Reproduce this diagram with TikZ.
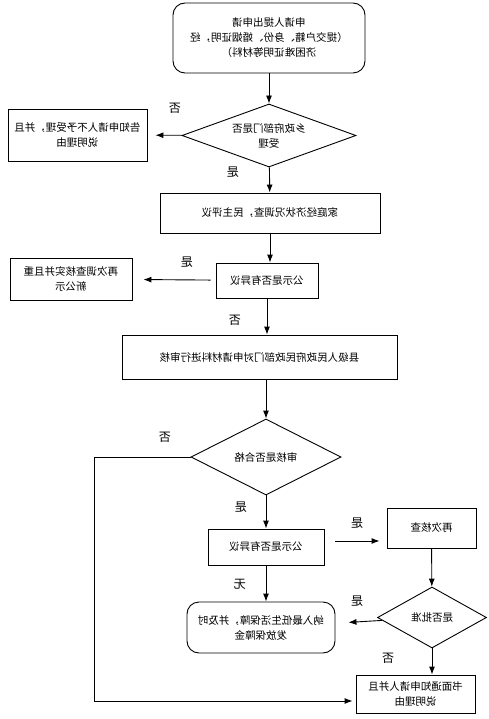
\documentclass[tikz,border=0pt]{standalone}
\usepackage{fontspec}
\setmainfont{Noto Sans CJK SC}
\usetikzlibrary{arrows.meta, shapes.geometric, positioning}

\tikzset{
	box/.style={draw, inner sep=2pt, align=center, font=\fontsize{10.5}{15}\selectfont},
	rbox/.style={box, rounded corners=12pt},
	choice/.style={draw, diamond, aspect=2.5, inner sep=0pt, align=center, font=\fontsize{10.5}{15}\selectfont},
	tag/.style={inner sep=0pt, font=\fontsize{12}{14}\selectfont}
}

\begin{document}
\begin{tikzpicture}[x=1pt, y=-1pt, xscale=-1, transform shape, line width=0.9pt, >={Latex[length=8pt,width=6pt]}]
		\useasboundingbox (0,0) rectangle (488,719);
		\draw (219,38) node[rbox, minimum width=192pt, minimum height=70pt] (apply) {申请人提出申请\\（提交户籍、身份、婚姻证明，经\\济困难证明等材料）}
		(219,135.5) node[choice, minimum width=174pt, minimum height=63pt] (accept) {乡政府部门是否\\受理}
		(410.5,135) node[box, minimum width=139pt, minimum height=52pt] (refuse) {告知申请人不予受理，并且\\说明理由}
		(218,213) node[box, minimum width=220pt, minimum height=40pt] (survey) {家庭经济状况调查，民主评议}
		(221,280.5) node[box, minimum width=102pt, minimum height=35pt] (notice) {公示是否有异议}
		(417,279) node[box, minimum width=122pt, minimum height=42pt] (renotice) {再次调查核实并且重\\新公示}
		(228.5,357) node[box, minimum width=275pt, minimum height=44pt] (review) {县级人民政府民政部门对申请材料进行审核}
		(222,457) node[choice, minimum width=150pt, minimum height=76pt] (pass) {审核是否合格}
		(222,547) node[box, minimum width=116pt, minimum height=36pt] (notice2) {公示是否有异议}
		(56.5,528) node[box, minimum width=89pt, minimum height=40pt] (recheck) {再次核查}
		(56,617.5) node[choice, minimum width=109pt, minimum height=61pt] (approve) {是否批准}
		(227,627.5) node[rbox, minimum width=148pt, minimum height=51pt] (grant) {纳入最低生活保障，并及时\\发放保障金}
		(72.5,694) node[box, minimum width=119pt, minimum height=38pt] (inform) {书面通知申请人并且\\说明理由};

		\coordinate (turn) at (394,457);
		\coordinate (back) at (394,701);
		\coordinate (side) at (131,541);

		\draw[->] (apply) -- (accept);
		\draw[->, shorten >=8pt] (accept) -- (refuse);
		\draw[->] (accept) -- (survey);
		\draw[->] (survey.south) -- (survey.south |- notice.north);
		\draw[->, shorten <=5pt, shorten >=11pt] (notice) -- (renotice);
		\draw[->] (notice.south) -- (notice.south |- review.north);
		\draw[->] (pass.north |- review.south) -- (pass.north);
		\draw[->] (pass.south) -- (pass.south |- notice2.north);
		\draw[->, shorten <=11pt, shorten >=7pt] (notice2.west |- side) -- (recheck.east |- side);
		\draw[->] (notice2.south) -- (notice2.south |- grant.north);
		\draw[->] (recheck) -- (approve);
		\draw[->, shorten >=13pt] (approve) -- (grant);
		\draw[->] (approve.south) -- (approve.south |- inform.north);
		\draw[->, shorten >=3pt] (pass.east) -- (turn) -- (back) -- (inform.east |- back);

		\node[tag] (no1) at (313,108) {否};
		\node[tag] (yes1) at (255,172) {是};
		\node[tag] (yes2) at (301,262) {是};
		\node[tag] (no2) at (253,320) {否};
		\node[tag] (no3) at (323,437) {否};
		\node[tag] (yes3) at (247,507) {是};
		\node[tag] (yes4) at (131,523) {是};
		\node[tag] (none) at (248,584) {无};
		\node[tag] (yes5) at (131,601) {是};
		\node[tag] (no4) at (100,658) {否};
	\end{tikzpicture}
\end{document}
